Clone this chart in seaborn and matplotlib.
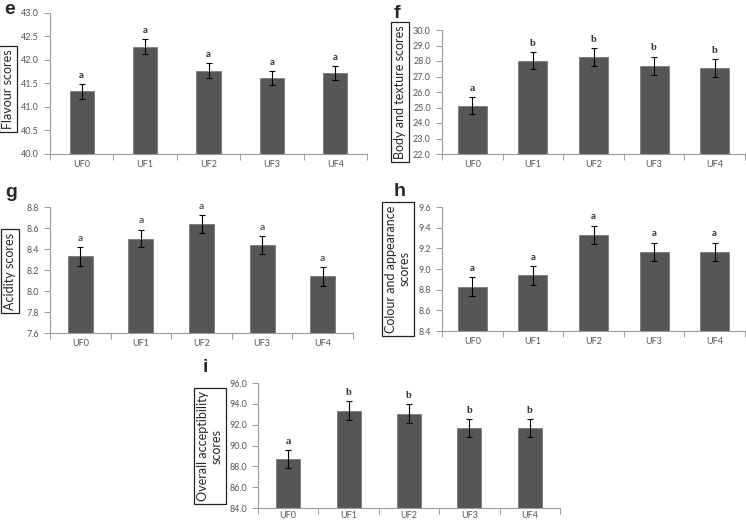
import numpy as np
import pandas as pd
import seaborn as sns
import matplotlib.pyplot as plt
from matplotlib.ticker import FixedLocator

# --- data ---
groups = ["UF0", "UF1", "UF2", "UF3", "UF4"]

flavour = [41.33, 42.28, 41.77, 41.61, 41.72]
flavour_err = [0.16, 0.16, 0.16, 0.15, 0.15]
flavour_sig = ["a", "a", "a", "a", "a"]

body = [25.12, 28.03, 28.25, 27.68, 27.56]
body_err = [0.56, 0.57, 0.57, 0.60, 0.58]
body_sig = ["a", "b", "b", "b", "b"]

acidity = [8.33, 8.50, 8.64, 8.44, 8.14]
acidity_err = [0.09, 0.085, 0.085, 0.085, 0.09]
acidity_sig = ["a", "a", "a", "a", "a"]

colour = [8.83, 8.94, 9.33, 9.165, 9.165]
colour_err = [0.09, 0.09, 0.09, 0.09, 0.09]
colour_sig = ["a", "a", "a", "a", "a"]

overall = [88.69, 93.36, 93.04, 91.66, 91.66]
overall_err = [0.86, 0.91, 0.92, 0.88, 0.88]
overall_sig = ["a", "b", "b", "b", "b"]

sns.set_style("white")
plt.rcParams["font.family"] = ["Lato", "DejaVu Sans"]

BAR = "#565656"
GRID = "#9a9a9a"
TXT = "#555555"

fig = plt.figure(figsize=(7.46, 5.23), dpi=100)


def panel(rect, vals, errs, sig, yticks, width, letter, letter_xy,
          label, box_xy, sig_style, xpad=4):
    ax = fig.add_axes(rect)
    df = pd.DataFrame({"group": groups, "score": vals})
    sns.barplot(data=df, x="group", y="score", ax=ax, color=BAR,
                width=width, errorbar=None, saturation=1,
                edgecolor="#7a7a7a", linewidth=0.6)
    ax.errorbar(np.arange(len(groups)), vals, yerr=errs, fmt="none",
                ecolor="black", elinewidth=0.8, capsize=2, capthick=0.8)
    for i, (v, e, s) in enumerate(zip(vals, errs, sig)):
        ax.annotate(s, (i, v + e), xytext=(0, 3), textcoords="offset points",
                    ha="center", va="bottom", color="#333333", **sig_style)
    ax.set_ylim(yticks[0], yticks[-1])
    ax.set_xlim(-0.5, len(groups) - 0.5)
    ax.set_yticks(yticks)
    ax.set_yticklabels([f"{t:.1f}" for t in yticks])
    ax.xaxis.set_minor_locator(FixedLocator(np.arange(-0.5, len(groups), 1)))
    ax.tick_params(axis="x", which="major", length=0, labelsize=6.5,
                   labelcolor=TXT, pad=xpad)
    ax.tick_params(axis="x", which="minor", length=4, color=GRID, width=0.7,
                   direction="out", bottom=True)
    ax.tick_params(axis="y", length=4, color=GRID, width=0.7, labelsize=6.5,
                   labelcolor=TXT, direction="out", left=True, pad=4)
    ax.set_xticks(range(len(groups)))
    ax.set_xticklabels(groups)
    ax.set_xlabel("")
    ax.set_ylabel("")
    for side in ["top", "right"]:
        ax.spines[side].set_visible(False)
    for side in ["left", "bottom"]:
        ax.spines[side].set_color(GRID)
        ax.spines[side].set_linewidth(0.8)
    fig.text(letter_xy[0], letter_xy[1], letter, fontsize=14,
             fontweight="bold", family="Liberation Sans", ha="center",
             va="center")
    fig.text(box_xy[0], box_xy[1], label, rotation=90, fontsize=9,
             ha="center", va="center", multialignment="center",
             bbox=dict(boxstyle="square,pad=0.25", fc="white", ec="#222222",
                       lw=0.9))
    return ax


W, H = 746.0, 523.0


def rect(x0, x1, ytop, ybot):
    return [x0 / W, 1 - ybot / H, (x1 - x0) / W, (ybot - ytop) / H]


def pos(x, y):
    return (x / W, 1 - y / H)


bold_sans = dict(fontsize=7, fontweight="bold")
bold_serif = dict(fontsize=7.5, fontweight="bold", family="Liberation Serif")
plain_sans = dict(fontsize=7.5)

panel(rect(50, 367, 13, 154), flavour, flavour_err, flavour_sig,
      [40.0, 40.5, 41.0, 41.5, 42.0, 42.5, 43.0], 0.38,
      "e", pos(10, 9), "Flavour scores", pos(8, 89), bold_sans)

panel(rect(442, 745, 30, 154), body, body_err, body_sig,
      [22.0, 23.0, 24.0, 25.0, 26.0, 27.0, 28.0, 29.0, 30.0], 0.48,
      "f", pos(397, 13), "Body and texture scores", pos(400, 92), bold_serif)

panel(rect(50, 353, 207, 333), acidity, acidity_err, acidity_sig,
      [7.6, 7.8, 8.0, 8.2, 8.4, 8.6, 8.8], 0.41,
      "g", pos(11, 192), "Acidity scores", pos(10, 271), plain_sans)

panel(rect(442, 745, 207, 331), colour, colour_err, colour_sig,
      [8.4, 8.6, 8.8, 9.0, 9.2, 9.4, 9.6], 0.48,
      "h", pos(400, 191), "Colour and appearance\nscores", pos(398, 269),
      bold_sans)

panel(rect(258, 560, 383, 508), overall, overall_err, overall_sig,
      [84.0, 86.0, 88.0, 90.0, 92.0, 94.0, 96.0], 0.40,
      "i", pos(205, 368), "Overall acceptibility\nscores", pos(210, 446),
      bold_serif, xpad=2)

fig.savefig("out.png", dpi=100)
